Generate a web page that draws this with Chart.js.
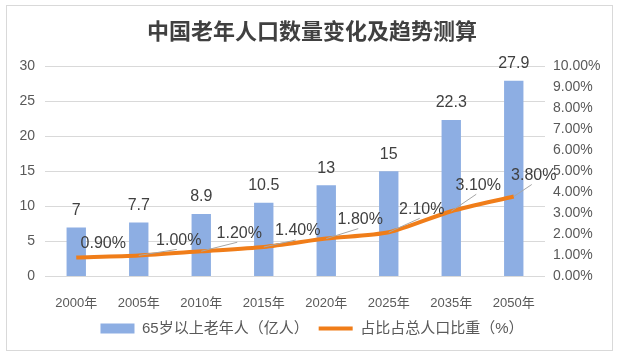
<!DOCTYPE html>
<html lang="zh">
<head>
  <meta charset="UTF-8">
  <title>中国老年人口数量变化及趋势测算</title>
  <script src="https://cdn.jsdelivr.net/npm/chart.js"></script>
  <style>
    body { margin: 0; background: #fff; }
    #wrap { width: 624px; height: 360px; }
  </style>
</head>
<body>
  <div id="wrap"><canvas id="agingChart" width="624" height="360"></canvas></div>

  <script>
    // data
    const years = ["2000年", "2005年", "2010年", "2015年", "2020年", "2025年", "2035年", "2050年"];
    const elderly = [7, 7.7, 8.9, 10.5, 13, 15, 22.3, 27.9];          // 亿人
    const sharePct = [0.9, 1.0, 1.2, 1.4, 1.8, 2.1, 3.1, 3.8];        // %
    const seriesNames = ["65岁以上老年人（亿人）", "占比占总人口比重（%）"];

    const FONT = '"Liberation Sans", "Noto Sans CJK SC", sans-serif';
    Chart.defaults.font.family = FONT;
    Chart.defaults.color = '#595959';

    // label offsets for the % labels (Excel labels were dragged by hand)
    const shareLabelShift = [[27, -14], [40, -15], [38, -18], [34, -16], [34, -19], [33, -23], [27, -26], [20, -21]];

    const labelsPlugin = {
      id: 'labelsPlugin',
      beforeDraw(chart) {
        const ctx = chart.ctx;
        ctx.save();
        ctx.strokeStyle = '#d9d9d9';
        ctx.lineWidth = 1;
        ctx.strokeRect(6.5, 5.5, 606, 345);
        ctx.restore();
      },
      afterDatasetsDraw(chart) {
        const ctx = chart.ctx;
        ctx.save();
        ctx.font = '16px ' + FONT;
        ctx.fillStyle = '#404040';
        ctx.textAlign = 'center';
        ctx.textBaseline = 'middle';

        chart.getDatasetMeta(0).data.forEach((bar, i) => {
          ctx.fillText(String(elderly[i]), bar.x, bar.y - 17);
        });

        chart.getDatasetMeta(1).data.forEach((pt, i) => {
          const [dx, dy] = shareLabelShift[i];
          const lx = pt.x + dx, ly = pt.y + dy;
          if (dy + 9 < -5) {
            ctx.strokeStyle = '#a6a6a6';
            ctx.lineWidth = 1;
            ctx.beginPath();
            ctx.moveTo(pt.x, pt.y);
            ctx.lineTo(lx - 2, ly + 9);
            ctx.stroke();
          }
          ctx.fillText(sharePct[i].toFixed(2) + '%', lx, ly);
        });
        ctx.restore();
      }
    };

    new Chart(document.getElementById('agingChart'), {
      data: {
        labels: years,
        datasets: [{
          type: 'bar',
          label: seriesNames[0],
          data: elderly,
          backgroundColor: '#8DAEE3',
          barPercentage: 0.31,
          categoryPercentage: 1,
          yAxisID: 'y',
          order: 1
        }, {
          type: 'line',
          label: seriesNames[1],
          data: sharePct,
          borderColor: '#F07D19',
          backgroundColor: '#F07D19',
          borderWidth: 4,
          pointRadius: 0,
          tension: 0.25,
          yAxisID: 'y1',
          order: 0
        }]
      },
      options: {
        responsive: false,
        animation: false,
        layout: { padding: { top: 0, left: 0, right: 0, bottom: 14 } },
        plugins: {
          title: {
            display: true,
            text: '中国老年人口数量变化及趋势测算',
            color: '#404040',
            font: { size: 22, weight: 'bold', family: '"Noto Sans CJK SC", sans-serif' },
            padding: { top: 17, bottom: 22.6 }
          },
          legend: {
            position: 'bottom',
            labels: {
              usePointStyle: true,
              pointStyleWidth: 34,
              boxHeight: 10,
              padding: 10,
              color: '#595959',
              font: { size: 15 },
              sort: (a, b) => a.datasetIndex - b.datasetIndex,
              generateLabels(chart) {
                const items = Chart.defaults.plugins.legend.labels.generateLabels(chart);
                items.forEach(it => {
                  if (it.datasetIndex === 0) {
                    it.pointStyle = 'rect';
                    it.lineWidth = 0;
                  } else {
                    it.pointStyle = 'line';
                    it.lineWidth = 4;
                  }
                });
                return items;
              }
            }
          },
          tooltip: { enabled: false }
        },
        scales: {
          x: {
            grid: { display: false },
            border: { display: false },
            ticks: { font: { size: 13 }, color: '#595959', padding: 11 },
            afterFit(scale) { scale.height = 34.5; }
          },
          y: {
            position: 'left',
            min: 0,
            max: 30,
            ticks: { stepSize: 5, font: { size: 14 }, color: '#595959', padding: 10 },
            grid: { color: '#d9d9d9', drawTicks: false },
            border: { display: false },
            afterFit(scale) { scale.width = 45; }
          },
          y1: {
            position: 'right',
            min: 0,
            max: 10,
            ticks: {
              stepSize: 1,
              font: { size: 14 },
              color: '#595959',
              padding: 8,
              callback: v => v.toFixed(2) + '%'
            },
            grid: { display: false, drawTicks: false },
            border: { display: false },
            afterFit(scale) { scale.width = 79; }
          }
        }
      },
      plugins: [labelsPlugin]
    });
  </script>
</body>
</html>
